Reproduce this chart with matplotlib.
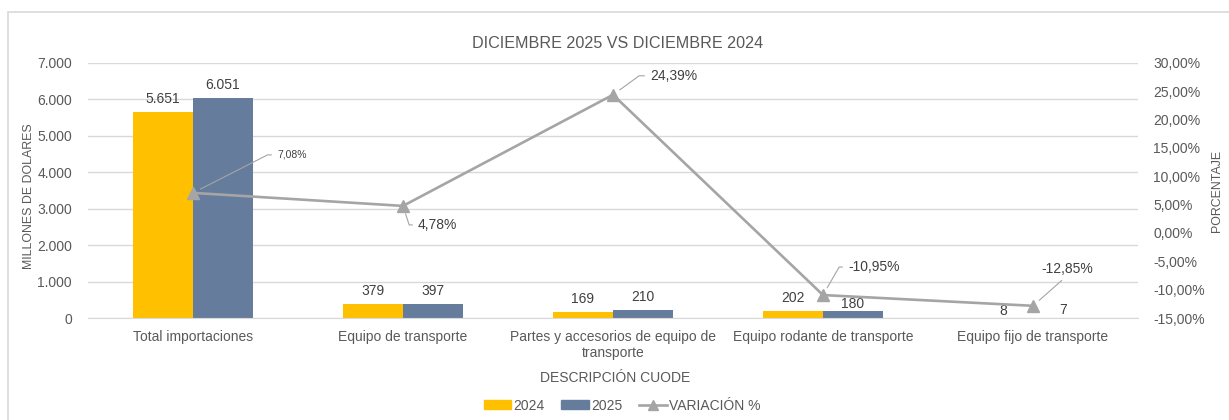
import matplotlib
matplotlib.use("Agg")
import matplotlib.pyplot as plt
from matplotlib.patches import Rectangle, Patch
from matplotlib.lines import Line2D
from matplotlib.ticker import FuncFormatter, MultipleLocator
import numpy as np

categories = ["Total importaciones", "Equipo de transporte",
              "Partes y accesorios de equipo de\ntransporte",
              "Equipo rodante de transporte", "Equipo fijo de transporte"]
values_2024 = [5651, 379, 169, 202, 8]
values_2025 = [6051, 397, 210, 180, 7]
variacion = [7.08, 4.78, 24.39, -10.95, -12.85]

plt.rcParams['font.family'] = ['Liberation Sans', 'DejaVu Sans']

C24 = '#FFC000'
C25 = '#657C9C'
CL = '#A5A5A5'
TXT = '#595959'
LBL = '#404040'
GRID = '#D9D9D9'

W, H = 1229, 420
fig = plt.figure(figsize=(W / 100, H / 100), dpi=100)
ax = fig.add_axes([88 / W, 1 - 318 / H, 1050 / W, 255 / H])
ax2 = ax.twinx()

x = np.arange(len(categories))
bw = 0.286
ax.bar(x - bw / 2, values_2024, bw, color=C24, zorder=2)
ax.bar(x + bw / 2, values_2025, bw, color=C25, zorder=2)
ax.set_xlim(-0.5, len(categories) - 0.5)
ax.set_ylim(0, 7000)
ax.yaxis.set_major_locator(MultipleLocator(1000))
ax.yaxis.set_major_formatter(FuncFormatter(lambda v, p: f"{int(v):,}".replace(",", ".")))
ax.grid(axis='y', color=GRID, lw=1, zorder=0)
ax.set_axisbelow(True)
for s in ['top', 'right', 'left']:
    ax.spines[s].set_visible(False)
ax.spines['bottom'].set_color(GRID)
ax.tick_params(axis='both', length=0, labelsize=10, labelcolor=TXT)
ax.tick_params(axis='y', pad=11.5)
ax.set_xticks(x)
ax.set_xticklabels(categories, linespacing=1.15)
ax.tick_params(axis='x', pad=9)

off24 = [6, 6, 6, 6, 0]
off25 = [6, 6, 6, 0, 1]
for i in range(len(categories)):
    ax.annotate(f"{values_2024[i]:,}".replace(",", "."), (x[i] - bw / 2, values_2024[i]),
                xytext=(0, off24[i]), textcoords='offset pixels', ha='center', va='bottom',
                fontsize=10, color=LBL)
    ax.annotate(f"{values_2025[i]:,}".replace(",", "."), (x[i] + bw / 2, values_2025[i]),
                xytext=(0, off25[i]), textcoords='offset pixels', ha='center', va='bottom',
                fontsize=10, color=LBL)

ax2.plot(x, variacion, color=CL, lw=1.9, marker='^', markersize=8, zorder=3)
ax2.set_ylim(-15, 30)
ax2.yaxis.set_major_locator(MultipleLocator(5))
ax2.yaxis.set_major_formatter(FuncFormatter(lambda v, p: f"{v:.2f}%".replace(".", ",")))
for s in ['top', 'right', 'left', 'bottom']:
    ax2.spines[s].set_visible(False)
ax2.tick_params(axis='y', length=0, labelsize=10, labelcolor=TXT, pad=10.8)

# line labels with leader lines (offset in pixels, text alignment, leader style)
lab_style = [
    dict(off=(84, 38), ha='left', va='center', fs=7.5, rel=(0, 0.5), cs="angle,angleA=0,angleB=27,rad=0"),
    dict(off=(15, -19), ha='left', va='center', fs=10, rel=(0, 0.5), cs="angle,angleA=0,angleB=-72,rad=0"),
    dict(off=(37, 19), ha='left', va='center', fs=10, rel=(0, 0.5), cs="angle,angleA=0,angleB=36,rad=0"),
    dict(off=(25, 28), ha='left', va='center', fs=10, rel=(0, 0.5), cs="angle,angleA=0,angleB=60,rad=0"),
    dict(off=(34, 37), ha='center', va='center', fs=10, rel=(0.5, 0), cs="arc3,rad=0"),
]
for i, st in enumerate(lab_style):
    ax2.annotate(f"{variacion[i]:.2f}%".replace(".", ","), (x[i], variacion[i]),
                 xytext=st['off'], textcoords='offset pixels', ha=st['ha'], va=st['va'],
                 fontsize=st['fs'], color=LBL,
                 arrowprops=dict(arrowstyle='-', color=CL, lw=0.8, relpos=st['rel'],
                                 connectionstyle=st['cs'], shrinkA=2, shrinkB=6))

fig.text(618 / W, 1 - 43 / H, "DICIEMBRE 2025 VS DICIEMBRE 2024", ha='center', va='center',
         fontsize=11.6, color=TXT)
fig.text(29 / W, 1 - 196 / H, "MILLONES DE DOLARES", rotation=90, ha='center', va='center',
         fontsize=8.9, color=TXT)
fig.text(1217 / W, 1 - 191 / H, "PORCENTAJE", rotation=90, ha='center', va='center',
         fontsize=8.9, color=TXT)
fig.text(615 / W, 1 - 378 / H, "DESCRIPCIÓN CUODE", ha='center', va='center',
         fontsize=10, color=TXT)

handles = [Patch(color=C24, label='2024'), Patch(color=C25, label='2025'),
           Line2D([0], [0], color=CL, lw=1.9, marker='^', markersize=7, label='VARIACIÓN %')]
leg = fig.legend(handles=handles, loc='center', bbox_to_anchor=(622 / W, 1 - 405.5 / H), ncol=3,
                 frameon=False, fontsize=10, handlelength=2.0, handleheight=0.55,
                 handletextpad=0.15, columnspacing=1.2)
for t in leg.get_texts():
    t.set_color(TXT)

fig.patches.append(Rectangle((7.5 / W, -0.1), 1.2, 1 - 11.5 / H + 0.1, transform=fig.transFigure,
                             fill=False, edgecolor=GRID, lw=1.2, figure=fig))

fig.savefig("out.png", dpi=100)
